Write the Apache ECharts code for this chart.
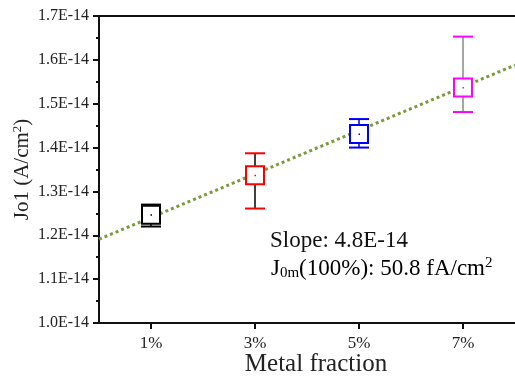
<!DOCTYPE html>
<html>
<head>
<meta charset="utf-8">
<script src="https://cdn.jsdelivr.net/npm/echarts@6/dist/echarts.min.js"></script>
<style>
  html, body { margin: 0; padding: 0; background: #fff; }
  #main { width: 515px; height: 376px; }
</style>
</head>
<body>
<div id="main"></div>
<script>
// values in units of 1E-14 A/cm2
var fractions = [1, 3, 5, 7];
var fractionLabels = ['1%', '3%', '5%', '7%'];
var jo1 = [1.247, 1.337, 1.431, 1.537];
var jo1High = [1.270, 1.387, 1.465, 1.653];
var jo1Low = [1.220, 1.261, 1.400, 1.481];
var pointColors = ['#000000', '#ff0000', '#0000ff', '#ff00ff'];
var barColors = ['#000000', '#000000', '#0000cc', '#888888'];
var fitX = [0, 8];
var fitY = [1.191, 1.588];

var chartDom = document.getElementById('main');
var myChart = echarts.init(chartDom);
var font = 'Liberation Serif';

var pts = fractions.map(function (f, i) {
    return [f, jo1[i], jo1Low[i], jo1High[i], i];
});

var option = {
    animation: false,
    grid: { left: 99, right: 0, top: 16, bottom: 53, outerBoundsMode: 'none', containLabel: false },
    xAxis: [{
        type: 'value',
        min: 0,
        max: 8,
        name: 'Metal fraction',
        nameLocation: 'middle',
        nameGap: 29,
        nameMoveOverlap: false,
        nameTextStyle: { fontFamily: font, fontSize: 25, color: '#222', padding: [0, 0, 0, 18] },
        axisLine: { lineStyle: { color: '#111', width: 2 } },
        axisTick: { customValues: fractions, length: 6, lineStyle: { color: '#111', width: 2 } },
        axisLabel: {
            customValues: fractions,
            formatter: function (v) { return fractionLabels[fractions.indexOf(v)]; },
            fontFamily: font, fontSize: 17, color: '#222', margin: 12
        },
        splitLine: { show: false }
    }, {
        type: 'value',
        position: 'top',
        min: 0,
        max: 8,
        axisLine: { show: true, lineStyle: { color: '#111', width: 2 } },
        axisTick: { show: false },
        axisLabel: { show: false },
        splitLine: { show: false }
    }],
    yAxis: {
        type: 'value',
        min: 1.0,
        max: 1.7,
        interval: 0.1,
        name: '{a|Jo1 (A/cm}{s|2}{a|)}',
        nameLocation: 'middle',
        nameGap: 66,
        nameMoveOverlap: false,
        nameTextStyle: {
            rich: {
                a: { fontFamily: font, fontSize: 21, color: '#222' },
                s: { fontFamily: font, fontSize: 13, color: '#222', verticalAlign: 'top', padding: [0, 0, 9, 0] }
            }
        },
        axisLine: { show: true, lineStyle: { color: '#111', width: 2 } },
        axisTick: { length: 6, lineStyle: { color: '#111', width: 2 } },
        minorTick: { show: true, splitNumber: 2, length: 3, lineStyle: { color: '#111', width: 2 } },
        axisLabel: {
            formatter: function (v) { return v.toFixed(1) + 'E-14'; },
            fontFamily: font, fontSize: 16, color: '#222', margin: 10
        },
        splitLine: { show: false }
    },
    graphic: [{
        type: 'text',
        left: 270,
        top: 229,
        style: { text: 'Slope: 4.8E-14', font: '23px "Liberation Serif"', fill: '#111' }
    }, {
        type: 'text',
        left: 271,
        top: 256,
        style: {
            text: '{a|J}{b|0m}{a|(100%): 50.8 fA/cm}{c|2}',
            rich: {
                a: { fontFamily: font, fontSize: 23, color: '#111' },
                b: { fontFamily: font, fontSize: 15, color: '#111', verticalAlign: 'bottom', padding: [10, 0, 0, 0] },
                c: { fontFamily: font, fontSize: 15, color: '#111', verticalAlign: 'top', padding: [0, 0, 9, 0] }
            }
        }
    }],
    series: [{
        type: 'line',
        data: fitX.map(function (x, i) { return [x, fitY[i]]; }),
        showSymbol: false,
        lineStyle: { color: '#7a9a3c', width: 3, type: [3, 3] },
        z: 1
    }, {
        type: 'custom',
        data: pts,
        z: 5,
        renderItem: function (params, api) {
            var c = api.coord([api.value(0), api.value(1)]);
            var lo = api.coord([api.value(0), api.value(2)]);
            var hi = api.coord([api.value(0), api.value(3)]);
            var i = api.value(4);
            var col = pointColors[i];
            var half = 9, cap = 10;
            return {
                type: 'group',
                children: [
                    { type: 'line', shape: { x1: c[0], y1: hi[1], x2: c[0], y2: lo[1] }, style: { stroke: barColors[i], lineWidth: 1.5 } },
                    { type: 'line', shape: { x1: c[0] - cap, y1: hi[1], x2: c[0] + cap, y2: hi[1] }, style: { stroke: col, lineWidth: 2 } },
                    { type: 'line', shape: { x1: c[0] - cap, y1: lo[1], x2: c[0] + cap, y2: lo[1] }, style: { stroke: col, lineWidth: 2 } },
                    { type: 'rect', shape: { x: c[0] - half, y: c[1] - half, width: half * 2, height: half * 2 }, style: { fill: '#fff', stroke: col, lineWidth: 2 } },
                    { type: 'rect', shape: { x: c[0] - 0.5, y: c[1] - 0.5, width: 1.5, height: 1.5 }, style: { fill: col } }
                ]
            };
        }
    }]
};
myChart.setOption(option);
</script>
</body>
</html>
